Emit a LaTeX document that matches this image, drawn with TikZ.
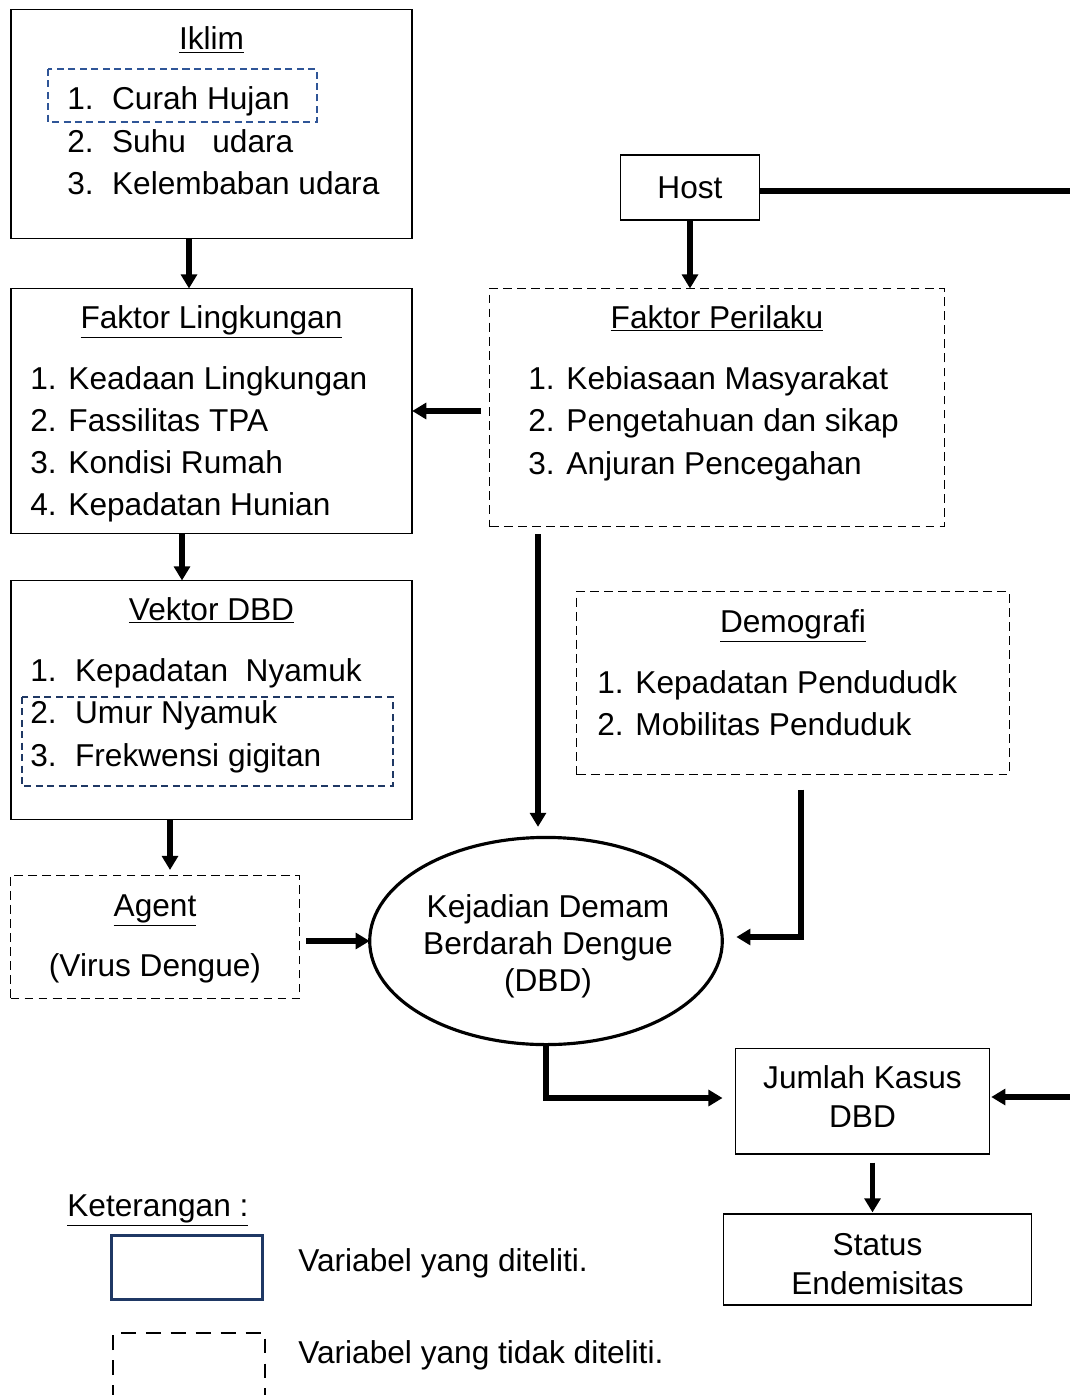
\documentclass[tikz,border=0pt]{standalone}
\usepackage{fontspec}
\setmainfont{Liberation Sans}
\usetikzlibrary{arrows.meta,positioning,shapes.geometric,calc}

\definecolor{hujanblue}{HTML}{2F5597}
\definecolor{navyline}{HTML}{1F3864}
\newcommand{\itm}[1]{\makebox[25.5pt][l]{#1}}
\newcommand{\ttl}[1]{\underline{#1}}
\def\pxu{0.5669pt}

\begin{document}
\begin{tikzpicture}[x=0.02cm, y=-0.02cm,
  box/.style={draw, line width=0.8pt, inner sep=0pt, outer sep=0pt,
    font=\fontsize{18}{22}\selectfont, align=center},
  dbox/.style={box, line width=0.6pt, dash pattern=on 5pt off 3pt},
  hilite/.style={draw=hujanblue, line width=1.2pt, dash pattern=on 4pt off 2.5pt},
  arrow/.style={-{Triangle[length=8pt,width=9pt]}, line width=3pt},
  txt/.style={anchor=base west, inner sep=0pt, font=\fontsize{18}{22}\selectfont},
  head/.style={txt, anchor=base},
  inner/.style={inner sep=0pt, align=center, font=\fontsize{18}{22}\selectfont},
]
\useasboundingbox (0,0) rectangle (1070,1395);

% boxes
\node[box, minimum width=403*\pxu, minimum height=230*\pxu] (iklim) at (211.5,124) {};
\node[box, minimum width=403*\pxu, minimum height=246*\pxu] (lingkungan) at (211.5,411) {};
\node[box, minimum width=403*\pxu, minimum height=240*\pxu] (vektor) at (211.5,700) {};
\node[dbox, minimum width=290*\pxu, minimum height=124*\pxu] (agent) at (155,937) {};
\node[box, minimum width=140*\pxu, minimum height=65*\pxu] (host) at (690,187.5) {Host};
\node[dbox, minimum width=456*\pxu, minimum height=239*\pxu] (perilaku) at (717,407.5) {};
\node[dbox, minimum width=434*\pxu, minimum height=184*\pxu] (demografi) at (793,683) {};
\node[box, ellipse, line width=1.8pt, minimum width=354*\pxu, minimum height=208*\pxu]
  (kejadian) at (546,941) {};
\node[box, minimum width=255*\pxu, minimum height=106*\pxu] (jumlah) at (862.5,1101) {};
\node[box, minimum width=309*\pxu, minimum height=91*\pxu] (status) at (877.5,1259.5) {};

% texts of the middle column
\node[inner, font=\fontsize{18}{21}\selectfont] (kejadianT) at (548,946)
  {Kejadian Demam\\Berdarah Dengue\\(DBD)};
\node[inner] (jumlahT) at (862.5,1096.5) {Jumlah Kasus\\DBD};
\node[inner] (statusT) at (877.5,1264) {Status\\Endemisitas};

% studied variables
\draw[hilite] (48,69) rectangle (317,122);
\draw[hilite, draw=navyline] (22,697) rectangle (393,786);

% titles and lists
\node[head] (iklimT) at (211.5,50) {\ttl{Iklim}};
\foreach \t [count=\i] in {Curah Hujan, Suhu\ \ \ udara, Kelembaban udara}
  \node[txt] (iklim\i) at (67,{110+42.5*(\i-1)}) {\itm{\i.}\t};

\node[head] (lingkunganT) at (211.5,328) {\ttl{Faktor Lingkungan}};
\foreach \t [count=\i] in {Keadaan Lingkungan, Fassilitas TPA, Kondisi Rumah, Kepadatan Hunian}
  \node[txt] (lingkungan\i) at (30,{389+42.3*(\i-1)}) {\i. \t};

\node[head] (vektorT) at (211.5,620) {\ttl{Vektor DBD}};
\foreach \t [count=\i] in {Kepadatan\ \ Nyamuk, Umur Nyamuk, Frekwensi gigitan}
  \node[txt] (vektor\i) at (30,{681+42.5*(\i-1)}) {\itm{\i.}\t};

\node[head] (agentT) at (155,916) {\ttl{Agent}};
\node[head] (agent1) at (155,976) {(Virus Dengue)};

\node[head] (perilakuT) at (717,328) {\ttl{Faktor Perilaku}};
\foreach \t [count=\i] in {Kebiasaan Masyarakat, Pengetahuan dan sikap, Anjuran Pencegahan}
  \node[txt] (perilaku\i) at (528,{389+42.5*(\i-1)}) {\i. \t};

\node[head] (demografiT) at (793,632) {\ttl{Demografi}};
\foreach \t [count=\i] in {Kepadatan Pendududk, Mobilitas Penduduk}
  \node[txt] (demografi\i) at (597,{693+42*(\i-1)}) {\i. \t};

% connectors
\coordinate (edgeA) at (1070,191);
\coordinate (edgeB) at (1070,1097);
\draw[line width=3pt] (host.east |- edgeA) -- (edgeA);
\draw[arrow] ($(iklim.south)+(-22.5,0)$) -- ($(lingkungan.north)+(-22.5,0)$);
\draw[arrow] (host.south) -- (host.south |- perilaku.north);
\draw[arrow, shorten <=5pt] (perilaku.west |- lingkungan.east) -- (lingkungan.east);
\draw[arrow] ($(lingkungan.south)+(-29.5,0)$) -- ($(vektor.north)+(-29.5,0)$);
\draw[arrow, shorten >=3pt] ($(vektor.south)+(-41.5,0)$) -- ($(agent.north)+(15,0)$);
\draw[arrow, shorten <=4.5pt, shorten >=6pt] ($(perilaku.south)+(-179,0)$)
  -- ($(perilaku.south |- kejadian.north)+(-179,0)$);
\draw[arrow, shorten <=8.5pt, shorten >=8pt] ($(demografi.south)+(8,0)$)
  |- ($(kejadian.east)+(0,-4)$);
\draw[arrow, shorten <=4pt] (agent.east |- kejadian.west) -- (kejadian.west);
\draw[arrow, shorten >=7.4pt] (kejadian.south) |- ($(jumlah.west)+(0,-3)$);
\draw[arrow, shorten >=1pt] (edgeB) -- (jumlah.east |- edgeB);
\draw[arrow, shorten <=5pt, shorten >=1pt] ($(jumlah.south)+(10,0)$)
  -- ($(jumlah.south |- status.north)+(10,0)$);

% legend
\node[txt] (ket) at (67,1216) {\ttl{Keterangan :}};
\node[draw=navyline, line width=1.6pt, inner sep=0pt, minimum width=152*\pxu,
  minimum height=65*\pxu] (legA) at (187,1267.5) {};
\node[txt] (legAT) at (298,1271) {Variabel yang diteliti.};
\coordinate (legBl) at (113,1400);
\coordinate (legBr) at (265,1333);
\draw[line width=1.6pt, dash pattern=on 8.5pt off 5.7pt] (legBl) |- (legBr) -- (legBr |- legBl);
\node[txt] (legBT) at (298,1363) {Variabel yang tidak diteliti.};
\end{tikzpicture}
\end{document}
